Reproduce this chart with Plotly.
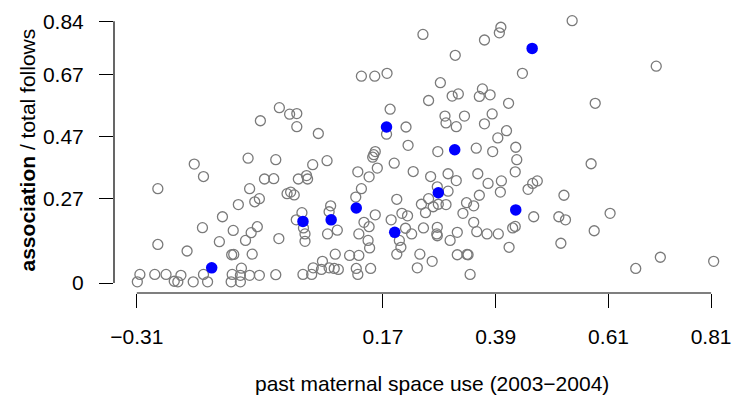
import plotly.graph_objects as go

# grey (open) points: past maternal space use vs association / total follows
grey_x = [-0.069, -0.032, 0.248, 0.128, 0.154, 0.178, 0.259, -0.012, 0.002, 0.184,
          0.002, 0.044, 0.177, 0.215, 0.219, 0.539, 0.400, 0.397, 0.368, 0.311,
          0.442, 0.282, 0.305, 0.317, 0.364, 0.358, 0.379, 0.415, 0.291, 0.293,
          0.313, 0.329, 0.383, 0.368, 0.411, 0.394, 0.429, 0.352, 0.384, 0.277,
          0.703, 0.584, -0.093, -0.039, -0.198, -0.180, -0.061, -0.043, -0.269, -0.090,
          -0.080, -0.071, -0.112, -0.143, -0.182, -0.122, -0.087, -0.075, -0.033, -0.149,
          -0.098, -0.269, -0.212, -0.125, -0.121, -0.085, -0.106, -0.304, -0.309, -0.275,
          -0.253, -0.224, -0.237, -0.230, -0.200, -0.180, -0.172, -0.124, -0.126, -0.108,
          -0.108, -0.090, -0.071, -0.039, 0.033, 0.061, 0.155, 0.152, 0.150, 0.192,
          0.159, 0.121, 0.143, 0.229, 0.263, 0.005, 0.021, 0.023, -0.017, -0.010,
          -0.003, 0.128, 0.117, 0.197, 0.245, 0.259, 0.253, 0.068, 0.065, 0.012,
          0.001, 0.015, 0.018, 0.018, 0.081, 0.062, 0.155, 0.133, 0.143, 0.123,
          0.141, 0.144, 0.186, 0.207, 0.218, 0.214, 0.226, 0.249, 0.202, 0.205,
          0.197, 0.242, 0.266, 0.237, 0.077, 0.105, 0.123, 0.052, 0.034, 0.050,
          0.065, 0.075, 0.083, 0.118, 0.146, 0.014, 0.031, 0.121, 0.431, 0.428,
          0.297, 0.313, 0.355, 0.375, 0.401, 0.399, 0.453, 0.462, 0.471, 0.276,
          0.297, 0.358, 0.268, 0.278, 0.293, 0.333, 0.347, 0.326, 0.523, 0.464,
          0.513, 0.526, 0.347, 0.353, 0.373, 0.395, 0.423, 0.428, 0.315, 0.301,
          0.276, 0.275, 0.276, 0.315, 0.334, 0.336, 0.416, 0.517, 0.340, 0.576,
          0.613, 0.582, 0.711, 0.663, 0.815]
grey_y = [0.521, 0.563, 0.798, 0.664, 0.664, 0.673, 0.586, 0.542, 0.544, 0.558,
          0.502, 0.480, 0.478, 0.501, 0.442, 0.842, 0.821, 0.803, 0.780, 0.731,
          0.673, 0.643, 0.600, 0.607, 0.623, 0.599, 0.604, 0.577, 0.536, 0.514,
          0.502, 0.536, 0.543, 0.511, 0.489, 0.466, 0.436, 0.433, 0.422, 0.422,
          0.696, 0.577, 0.401, 0.396, 0.382, 0.342, 0.334, 0.335, 0.303, 0.303,
          0.261, 0.271, 0.252, 0.213, 0.178, 0.169, 0.162, 0.181, 0.143, 0.133,
          0.137, 0.124, 0.103, 0.091, 0.092, 0.093, 0.048, 0.028, 0.004, 0.028,
          0.028, 0.025, 0.006, 0.004, 0.004, 0.028, 0.004, 0.028, 0.004, 0.025,
          0.004, 0.025, 0.025, 0.027, 0.380, 0.393, 0.422, 0.412, 0.404, 0.385,
          0.369, 0.357, 0.341, 0.358, 0.342, 0.334, 0.345, 0.334, 0.287, 0.292,
          0.283, 0.303, 0.276, 0.269, 0.253, 0.271, 0.226, 0.248, 0.229, 0.226,
          0.203, 0.177, 0.158, 0.134, 0.170, 0.158, 0.219, 0.195, 0.181, 0.158,
          0.137, 0.113, 0.203, 0.224, 0.216, 0.176, 0.158, 0.177, 0.137, 0.115,
          0.093, 0.093, 0.070, 0.049, 0.093, 0.089, 0.089, 0.070, 0.049, 0.044,
          0.049, 0.047, 0.044, 0.047, 0.047, 0.028, 0.028, 0.028, 0.396, 0.357,
          0.351, 0.329, 0.351, 0.320, 0.328, 0.292, 0.301, 0.320, 0.328, 0.309,
          0.295, 0.282, 0.245, 0.253, 0.252, 0.258, 0.248, 0.224, 0.282, 0.213,
          0.213, 0.203, 0.195, 0.165, 0.158, 0.158, 0.177, 0.182, 0.163, 0.137,
          0.179, 0.158, 0.152, 0.091, 0.092, 0.091, 0.115, 0.128, 0.028, 0.383,
          0.224, 0.168, 0.083, 0.047, 0.070]

# highlighted (blue) points
blue_x = [-0.164, 0.014, 0.069, 0.118, 0.177, 0.193, 0.278, 0.310, 0.429, 0.461]
blue_y = [0.049, 0.198, 0.203, 0.241, 0.501, 0.163, 0.290, 0.428, 0.235, 0.753]

x_ticks = [-0.31, 0.17, 0.39, 0.61, 0.81]
y_ticks = [0, 0.27, 0.47, 0.67, 0.84]

FONT = "Liberation Sans, Arial, Helvetica, sans-serif"
FS = 21

fig = go.Figure()
fig.add_trace(go.Scatter(
    x=grey_x, y=grey_y, mode="markers",
    marker=dict(symbol="circle-open", size=10, color="#7a7a7a", line=dict(width=1.3)),
    cliponaxis=False, hoverinfo="skip", showlegend=False))
fig.add_trace(go.Scatter(
    x=blue_x, y=blue_y, mode="markers",
    marker=dict(symbol="circle", size=11.5, color="#0000ff", line=dict(width=0)),
    cliponaxis=False, hoverinfo="skip", showlegend=False))

# axis lines spanning the tick range (R style)
fig.add_shape(type="line", xref="paper", yref="y", x0=0, x1=0,
              y0=min(y_ticks), y1=max(y_ticks), line=dict(color="black", width=1.2))
fig.add_shape(type="line", xref="x", yref="paper", x0=min(x_ticks), x1=max(x_ticks),
              y0=0, y1=0, line=dict(color="black", width=1.2))

fig.update_layout(
    width=741, height=400,
    margin=dict(l=114, r=11, t=10, b=107),
    paper_bgcolor="white", plot_bgcolor="white",
    font=dict(family=FONT, size=FS, color="black"),
    xaxis=dict(range=[-0.3545, 0.8371], tickvals=x_ticks,
               ticktext=["\u22120.31", "0.17", "0.39", "0.61", "0.81"],
               ticks="outside", ticklen=14, tickwidth=1.2, tickcolor="black",
               showgrid=False, zeroline=False, showline=False,
               ticklabelstandoff=11, tickfont=dict(size=FS)),
    yaxis=dict(range=[-0.0317, 0.8667], tickvals=y_ticks,
               ticktext=["0", "0.27", "0.47", "0.67", "0.84"],
               ticks="outside", ticklen=14, tickwidth=1.2, tickcolor="black",
               showgrid=False, zeroline=False, showline=False,
               ticklabelstandoff=11, tickfont=dict(size=FS)),
    annotations=[
        dict(text="past maternal space use (2003\u22122004)", xref="paper", yref="paper",
             x=0.521, y=-0.3216, xanchor="center", yanchor="middle", showarrow=False,
             font=dict(size=FS)),
        dict(text="<b>association</b> / total follows", xref="paper", yref="paper",
             x=-0.141, y=0.512, xanchor="center", yanchor="middle", textangle=-90,
             showarrow=False, font=dict(size=FS)),
    ],
)

fig.write_html("out.html")
